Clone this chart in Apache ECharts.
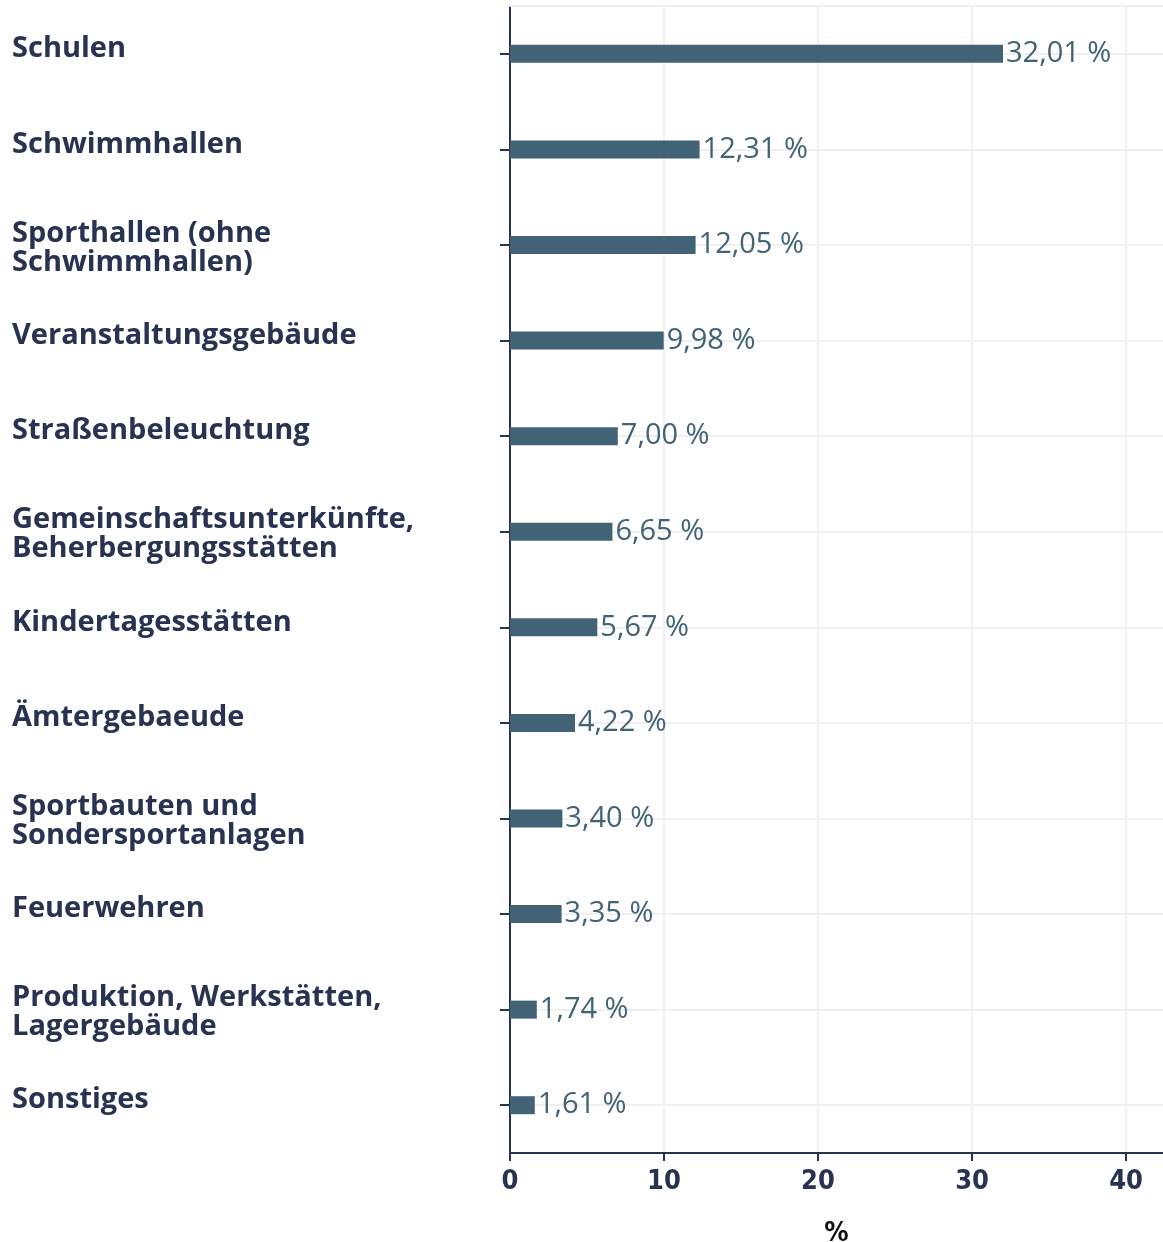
<!DOCTYPE html>
<html>
<head>
<meta charset="utf-8">
<script src="https://cdn.jsdelivr.net/npm/echarts@6/dist/echarts.min.js"></script>
<style>
  html, body { margin: 0; padding: 0; background: #fff; }
  #chart { width: 1163px; height: 1242px; }
</style>
</head>
<body>
<div id="chart"></div>
<script>
// Kategorien (von oben nach unten)
var categories = [
    'Schulen',
    'Schwimmhallen',
    'Sporthallen (ohne\nSchwimmhallen)',
    'Veranstaltungsgebäude',
    'Straßenbeleuchtung',
    'Gemeinschaftsunterkünfte,\nBeherbergungsstätten',
    'Kindertagesstätten',
    'Ämtergebaeude',
    'Sportbauten und\nSondersportanlagen',
    'Feuerwehren',
    'Produktion, Werkstätten,\nLagergebäude',
    'Sonstiges'
];
// Anteile in %
var shares = [32.01, 12.31, 12.05, 9.98, 7.00, 6.65, 5.67, 4.22, 3.40, 3.35, 1.74, 1.61];
var xTicks = [0, 10, 20, 30, 40];

var dark = '#283352';
var barColor = '#416375';
var narrow = 'Liberation Sans Narrow, DejaVu Sans Condensed, Noto Sans, sans-serif';

var labelFont = {
    color: dark,
    fontFamily: 'Open Sans, Noto Sans, sans-serif',
    fontWeight: 'bold',
    fontSize: 29,
    lineHeight: 29
};

var option = {
    animation: false,
    grid: {
        left: 510,
        right: 0,
        top: 6,
        bottom: 89,
        outerBoundsMode: 'none',
        containLabel: false
    },
    xAxis: [{
        type: 'value',
        min: 0,
        max: 42.4,
        interval: 10,
        name: '%',
        nameLocation: 'middle',
        nameGap: 67,
        nameTextStyle: {
            color: '#111',
            fontFamily: narrow,
            fontWeight: 'bold',
            fontSize: 27
        },
        axisLine: { show: true, lineStyle: { color: dark, width: 2 } },
        axisTick: { show: true, length: 8, customValues: xTicks, lineStyle: { color: dark, width: 2 } },
        axisLabel: {
            margin: 15,
            color: dark,
            fontFamily: narrow,
            fontWeight: 'bold',
            fontSize: 27,
            customValues: xTicks
        },
        splitLine: { show: true, lineStyle: { color: '#f0f0f0', width: 2 } }
    }, {
        // nur für die obere Begrenzungslinie
        type: 'value',
        position: 'top',
        min: 0,
        max: 42.4,
        axisLine: { show: true, lineStyle: { color: '#f0f0f0', width: 2 } },
        axisTick: { show: false },
        axisLabel: { show: false },
        splitLine: { show: false }
    }],
    yAxis: {
        type: 'category',
        inverse: true,
        data: categories,
        axisLine: { show: true, lineStyle: { color: dark, width: 2 } },
        axisTick: { show: true, alignWithLabel: true, length: 10, lineStyle: { color: dark, width: 2 } },
        splitLine: { show: true, alignWithLabel: true, lineStyle: { color: '#f0f0f0', width: 2 } },
        axisLabel: {
            align: 'left',
            margin: 498,
            formatter: function (v) {
                var parts = v.split('\n');
                if (parts.length > 1) {
                    // kleine Leerzeile oben schiebt den Block etwas nach unten
                    return '{e| }\n{m|' + parts[0] + '}\n{m|' + parts[1] + '}';
                }
                return '{s|' + v + '}';
            },
            rich: {
                e: { fontSize: 1, lineHeight: 6 },
                m: labelFont,
                s: Object.assign({}, labelFont, { padding: [0, 0, 10, 0] })
            }
        }
    },
    series: [{
        type: 'bar',
        data: shares,
        barWidth: 18,
        itemStyle: { color: barColor },
        label: {
            show: true,
            position: 'right',
            distance: 3,
            color: barColor,
            fontFamily: 'Open Sans, Noto Sans, sans-serif',
            fontSize: 29,
            formatter: function (p) {
                return p.value.toFixed(2).replace('.', ',') + ' %';
            }
        }
    }]
};

var myechart = echarts.init(document.getElementById('chart'));
myechart.setOption(option);
</script>
</body>
</html>
